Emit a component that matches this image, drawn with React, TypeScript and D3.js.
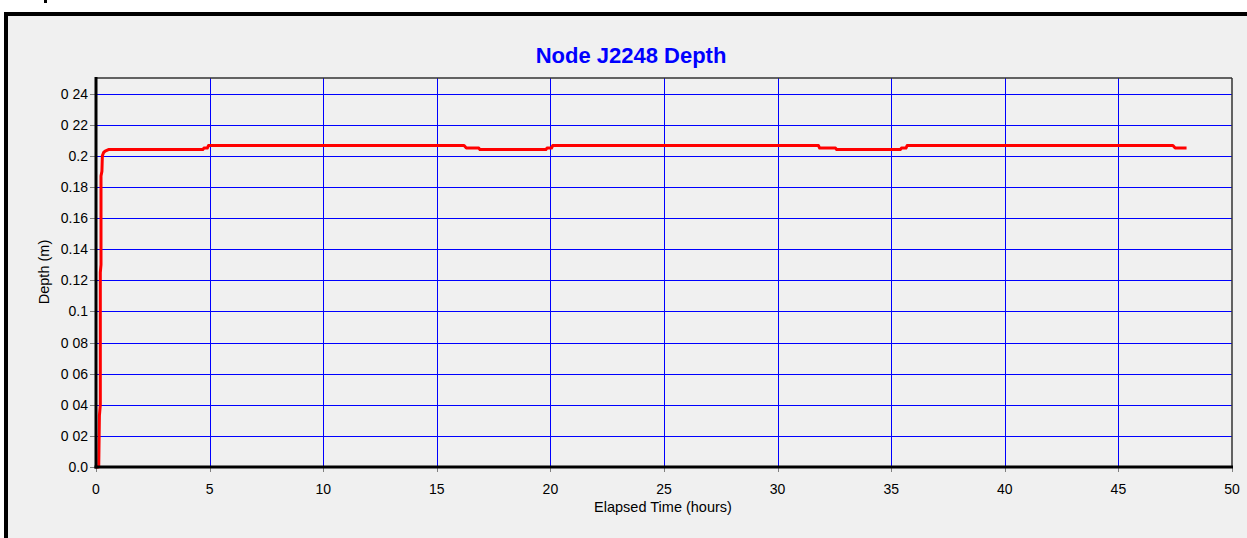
import React from "react";
import * as d3 from "d3";

const TITLE = "Node J2248 Depth";
const X_LABEL = "Elapsed Time (hours)";
const Y_LABEL = "Depth (m)";

const xTicks = [0, 5, 10, 15, 20, 25, 30, 35, 40, 45, 50];
const xTickLabels = ["0", "5", "10", "15", "20", "25", "30", "35", "40", "45", "50"];
const yTicks = [0, 0.02, 0.04, 0.06, 0.08, 0.1, 0.12, 0.14, 0.16, 0.18, 0.2, 0.22, 0.24];
const yTickLabels = ["0.0", "0 02", "0 04", "0 06", "0 08", "0.1", "0.12", "0.14", "0.16", "0.18", "0.2", "0 22", "0 24"];

const times = [
  0, 0.12, 0.15, 0.19, 0.19, 0.22, 0.22, 0.26, 0.28, 0.33, 0.4, 0.55,
  4.7, 4.75, 4.9, 4.95,
  16.2, 16.3, 16.85, 16.9,
  19.8, 19.85, 20.05, 20.1,
  31.8, 31.85, 32.55, 32.6,
  35.4, 35.45, 35.65, 35.7,
  47.4, 47.5, 48.0,
];
const depths = [
  0, 0, 0.033, 0.04, 0.125, 0.13, 0.187, 0.19, 0.2, 0.202, 0.203, 0.204,
  0.204, 0.205, 0.205, 0.2066,
  0.2066, 0.205, 0.205, 0.204,
  0.204, 0.205, 0.205, 0.2066,
  0.2066, 0.205, 0.205, 0.204,
  0.204, 0.205, 0.205, 0.2066,
  0.2066, 0.205, 0.205,
];

const W = 1247;
const H = 538;
const FONT = "'Liberation Sans', Arial, Helvetica, sans-serif";

export default function App() {
  const x = d3.scaleLinear().domain([0, 50]).range([96, 1232]);
  const y = d3.scaleLinear().domain([0, 0.25]).range([467, 78]);
  const [x0, x1] = x.range();
  const [yb, yt] = y.range();

  const pts: [number, number][] = times.map((t, i) => [t, depths[i]]);
  const line = d3
    .line<[number, number]>()
    .x((d) => x(d[0]))
    .y((d) => y(d[1]));

  return (
    <svg
      width={W}
      height={H}
      style={{ position: "absolute", left: 0, top: 0, background: "#ffffff" }}
      fontFamily={FONT}
    >
      <rect x={0} y={0} width={W} height={H} fill="#ffffff" />
      <rect x={6} y={14} width={W + 20} height={H + 20} fill="#f0f0f0" stroke="#000" strokeWidth={4} />
      <rect x={44} y={0} width={3} height={3} fill="#000" />

      <text x={631} y={63} textAnchor="middle" fontSize={22} fontWeight="bold" fill="#0000ff">
        {TITLE}
      </text>

      {/* grid */}
      {yTicks.filter((v) => v > 0).map((v) => (
        <line key={"gy" + v} x1={x0} x2={x1} y1={Math.round(y(v)) + 0.5} y2={Math.round(y(v)) + 0.5} stroke="#0000ff" strokeWidth={1} />
      ))}
      {xTicks.filter((v) => v > 0 && v < 50).map((v) => (
        <line key={"gx" + v} x1={Math.round(x(v)) + 0.5} x2={Math.round(x(v)) + 0.5} y1={yt} y2={yb} stroke="#0000ff" strokeWidth={1} />
      ))}

      {/* top & right border */}
      <line x1={x0} x2={x1} y1={yt} y2={yt} stroke="#333" strokeWidth={1.5} />
      <line x1={x1} x2={x1} y1={yt} y2={yb} stroke="#333" strokeWidth={1.5} />

      {/* ticks */}
      {yTicks.map((v) => (
        <line key={"ty" + v} x1={x0 - 6} x2={x0} y1={Math.round(y(v)) + 0.5} y2={Math.round(y(v)) + 0.5} stroke="#808080" strokeWidth={1} />
      ))}
      {xTicks.map((v) => (
        <line key={"tx" + v} x1={Math.round(x(v)) + 0.5} x2={Math.round(x(v)) + 0.5} y1={yb} y2={yb + 5} stroke="#808080" strokeWidth={1} />
      ))}

      {/* data */}
      <path d={line(pts) || ""} fill="none" stroke="#ff0000" strokeWidth={3} strokeLinejoin="round" />

      {/* axes */}
      <line x1={x0} x2={x0} y1={yt - 1} y2={yb + 1.5} stroke="#000" strokeWidth={3} />
      <line x1={x0 - 1.5} x2={x1 + 1} y1={yb} y2={yb} stroke="#000" strokeWidth={3} />

      {/* tick labels */}
      {yTicks.map((v, i) => (
        <text key={"ly" + v} x={x0 - 8} y={y(v) + 5} textAnchor="end" fontSize={14} fill="#000">
          {yTickLabels[i]}
        </text>
      ))}
      {xTicks.map((v, i) => (
        <text key={"lx" + v} x={x(v)} y={494} textAnchor="middle" fontSize={14} fill="#000">
          {xTickLabels[i]}
        </text>
      ))}

      <text x={663} y={512} textAnchor="middle" fontSize={14.5} fill="#000">
        {X_LABEL}
      </text>
      <text
        transform={`translate(49,272) rotate(-90)`}
        textAnchor="middle"
        fontSize={14.5}
        fill="#000"
      >
        {Y_LABEL}
      </text>
    </svg>
  );
}
